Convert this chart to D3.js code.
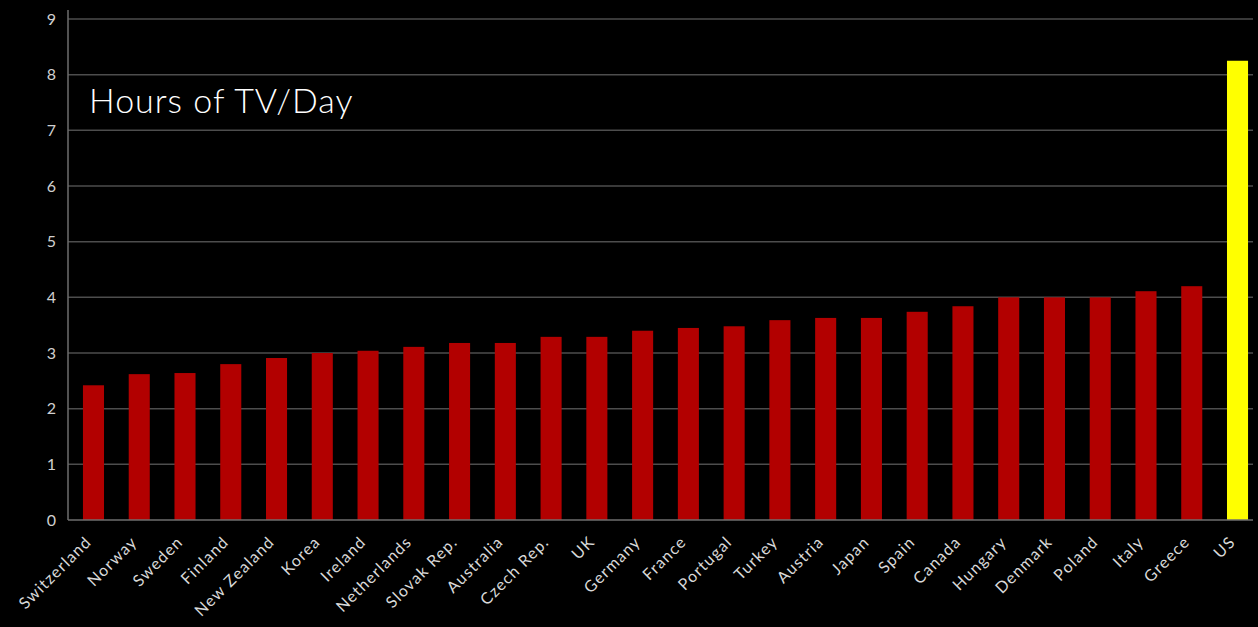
<!DOCTYPE html>
<html>
<head>
<meta charset="utf-8">
<script src="https://cdn.jsdelivr.net/npm/d3@7"></script>
<style>
    html, body { margin: 0; padding: 0; background: #000; }
    svg { display: block; }
</style>
</head>
<body>
<div id="canvas"></div>
<script>
// data
var countries = ["Switzerland", "Norway", "Sweden", "Finland", "New Zealand", "Korea", "Ireland",
                 "Netherlands", "Slovak Rep.", "Australia", "Czech Rep.", "UK", "Germany", "France",
                 "Portugal", "Turkey", "Austria", "Japan", "Spain", "Canada", "Hungary", "Denmark",
                 "Poland", "Italy", "Greece", "US"];
var hours = [2.42, 2.62, 2.64, 2.80, 2.91, 3.0, 3.04, 3.11, 3.18, 3.18, 3.29, 3.29, 3.40, 3.45,
             3.48, 3.59, 3.63, 3.63, 3.74, 3.84, 4.0, 4.0, 4.0, 4.11, 4.2, 8.25];
var highlighted = ["US"];
var yTicks = [0, 1, 2, 3, 4, 5, 6, 7, 8, 9];
var chartTitle = "Hours of TV/Day";

var canvasWidth = 1258;
var canvasHeight = 627;
var plotLeft = 68, plotRight = 1253, plotTop = 19, plotBottom = 520;
var barColors = { normal: "#b20000", highlight: "#ffff00" };

var svg = d3.select("#canvas").append("svg")
            .attr("width", canvasWidth)
            .attr("height", canvasHeight)
            .attr("viewBox", "0 0 " + canvasWidth + " " + canvasHeight)
            .style("font-family", "Lato, 'Noto Sans', sans-serif");

svg.append("rect")
        .attr("width", canvasWidth)
        .attr("height", canvasHeight)
        .attr("fill", "#000");

var x = d3.scaleBand()
            .domain(countries)
            .range([70.6, 1260.4])
            .paddingInner(0.54)
            .paddingOuter(0.27);

var y = d3.scaleLinear()
            .domain([0, 9])
            .range([plotBottom, plotTop]);

// gridlines
svg.append("g")
        .selectAll("line")
        .data(yTicks.filter(function(d) { return d > 0; }))
        .join("line")
        .attr("x1", plotLeft)
        .attr("x2", plotRight)
        .attr("y1", function(d) { return y(d); })
        .attr("y2", function(d) { return y(d); })
        .attr("stroke", "#4d4d4d")
        .attr("stroke-width", 1.5);

// y axis
var yAxis = svg.append("g")
        .attr("transform", "translate(" + plotLeft + ",0)")
        .call(d3.axisLeft(y).tickValues(yTicks).tickSize(0).tickPadding(12));
yAxis.select(".domain").remove();
yAxis.selectAll("text")
        .attr("fill", "#d0d0d0")
        .style("font-size", "16px")
        .style("font-family", "Lato, 'Noto Sans', sans-serif");

svg.append("line")
        .attr("x1", plotLeft).attr("x2", plotLeft)
        .attr("y1", 10).attr("y2", plotBottom)
        .attr("stroke", "#6e6e6e")
        .attr("stroke-width", 1.5);

// bars
svg.append("g")
        .selectAll("rect")
        .data(countries)
        .join("rect")
        .attr("x", function(d) { return x(d); })
        .attr("width", x.bandwidth())
        .attr("y", function(d, i) { return y(hours[i]); })
        .attr("height", function(d, i) { return y(0) - y(hours[i]); })
        .attr("fill", function(d) { return highlighted.indexOf(d) >= 0 ? barColors.highlight : barColors.normal; });

// x axis
svg.append("line")
        .attr("x1", plotLeft).attr("x2", plotRight)
        .attr("y1", plotBottom).attr("y2", plotBottom)
        .attr("stroke", "#6e6e6e")
        .attr("stroke-width", 1.5);

svg.append("g")
        .selectAll("text")
        .data(countries)
        .join("text")
        .attr("transform", function(d) {
            return "translate(" + (x(d) + x.bandwidth() / 2 - 1) + "," + 543 + ") rotate(-45)";
        })
        .attr("text-anchor", "end")
        .attr("fill", "#d9d9d9")
        .style("font-size", "16px")
        .style("letter-spacing", "1.2px")
        .text(function(d) { return d; });

// title
svg.append("text")
        .attr("x", 89)
        .attr("y", 113)
        .attr("fill", "#ffffff")
        .style("font-size", "34px")
        .style("font-weight", "300")
        .style("letter-spacing", "1px")
        .text(chartTitle);
</script>
</body>
</html>
